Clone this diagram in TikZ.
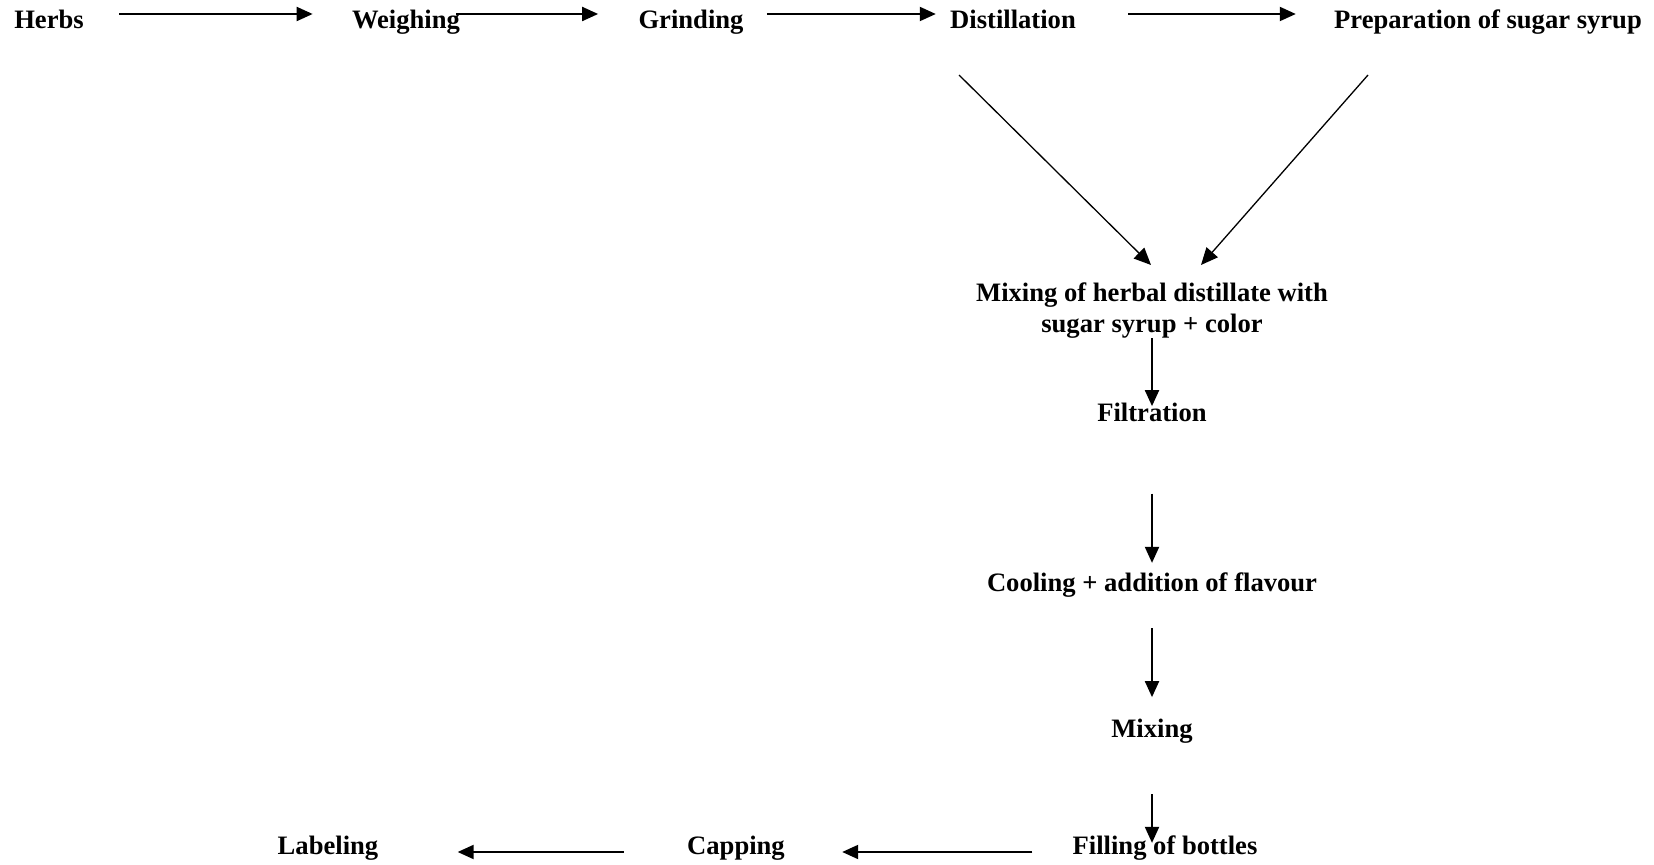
\documentclass[tikz,border=0pt]{standalone}
\usepackage{fontspec}
\setmainfont{Liberation Serif}
\usetikzlibrary{arrows.meta,calc,positioning}
\tikzset{
  stage/.style = {inner sep=0pt, font=\fontsize{13.3}{15.5}\selectfont\bfseries},
  flow/.style  = {-{Triangle[length=8pt,width=7pt]}, line width=1pt},
  slant/.style = {-{Triangle[length=8.5pt,width=7.5pt]}, line width=0.65pt},
}
\begin{document}
\begin{tikzpicture}[x=0.5pt,y=-0.5pt]
  \useasboundingbox (0,0) rectangle (1654,865);
  % top row
  \node[stage,anchor=base] (herbs)  at (49,29)   {Herbs};
  \node[stage,anchor=base] (weigh)  at (406,29)  {Weighing};
  \node[stage,anchor=base] (grind)  at (691,29)  {Grinding};
  \node[stage,anchor=base] (distil) at (1013,29) {Distillation};
  \node[stage,anchor=base] (syrup)  at (1488,29) {Preparation of sugar syrup};
  % middle column
  \node[stage,anchor=north,align=center] (mix) at (1152,282)
       {Mixing of herbal distillate with\\ sugar syrup + color};
  \node[stage,anchor=base] (filtr)  at (1152,422) {Filtration};
  \node[stage,anchor=base] (cool)   at (1152,591) {Cooling + addition of flavour};
  \node[stage,anchor=base] (mixing) at (1152,737) {Mixing};
  % bottom row
  \node[stage,anchor=base] (fill)   at (1165,854) {Filling of bottles};
  \node[stage,anchor=base] (cap)    at (736,854)  {Capping};
  \node[stage,anchor=base] (label)  at (328,854)  {Labeling};

  \draw[flow,shorten <=17.5pt,shorten >=19.5pt] ([yshift=7.5pt]herbs.base east) -- ([yshift=7.5pt]weigh.base west);
  \draw[flow,shorten <=-2pt,shorten >=20pt] ([yshift=7.5pt]weigh.base east) -- ([yshift=7.5pt]grind.base west);
  \draw[flow,shorten <=11.5pt,shorten >=7pt] ([yshift=7.5pt]grind.base east) -- ([yshift=7.5pt]distil.base west);
  \draw[flow,shorten <=26pt,shorten >=19pt] ([yshift=7.5pt]distil.base east) -- ([yshift=7.5pt]syrup.base west);

  \draw[slant] ([shift={(-54,46)}]distil.base) -- ([shift={(-1,-17)}]mix.north);
  \draw[slant] ([shift={(-120,46)}]syrup.base) -- ([shift={(49,-17)}]mix.north);

  \draw[flow,shorten >=-1.5pt] (mix.south) -- (filtr.north);
  \draw[flow,shorten <=35.5pt,shorten >=4.5pt] (filtr.south) -- (cool.north);
  \draw[flow,shorten <=15.5pt,shorten >=10.5pt] (cool.south) -- (mixing.north);
  \draw[flow,shorten <=25.5pt,shorten >=-4pt] (mixing.south) -- (fill.north -| mixing.south);

  \draw[flow,shorten <=20pt,shorten >=28.5pt] ([yshift=1pt]fill.base west) -- ([yshift=1pt]cap.base east);
  \draw[flow,shorten <=31.5pt,shorten >=39.5pt] ([yshift=1pt]cap.base west) -- ([yshift=1pt]label.base east);
\end{tikzpicture}
\end{document}
